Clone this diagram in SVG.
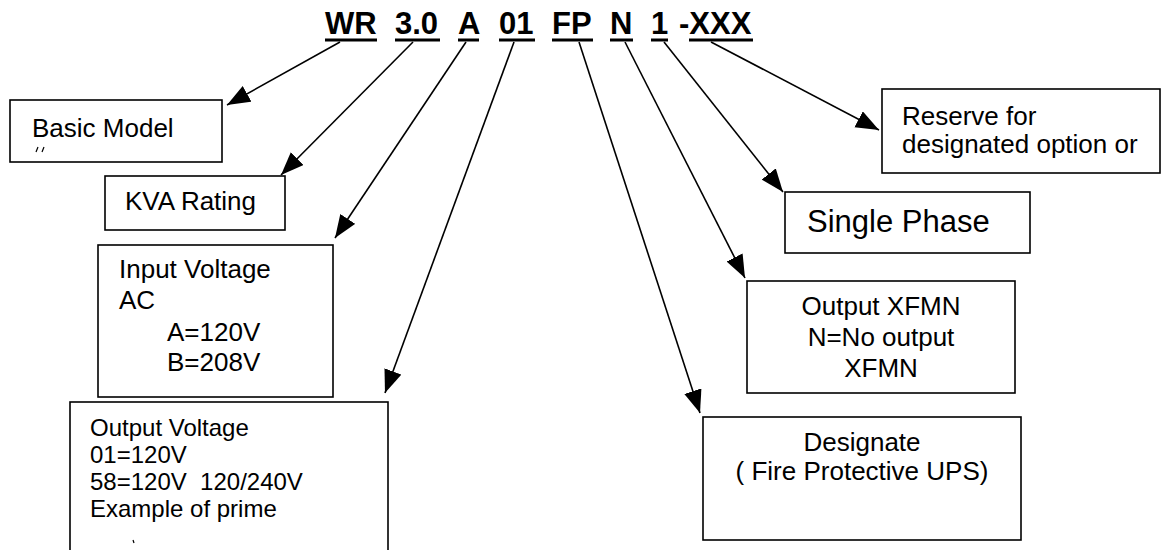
<svg xmlns="http://www.w3.org/2000/svg" width="1166" height="550" viewBox="0 0 1166 550">
<style>
.box{fill:#fff;stroke:#000;stroke-width:1.6}
.t{font-family:"Liberation Sans",Arial,sans-serif;fill:#000;white-space:pre}
.h{font-family:"Liberation Sans",Arial,sans-serif;font-weight:bold;font-size:31px;fill:#000}
.ul{stroke:#000;stroke-width:3}
.c{stroke:#000;stroke-width:1.6;fill:none;marker-end:url(#ah)}
</style>
<defs>
<marker id="ah" markerUnits="userSpaceOnUse" markerWidth="26" markerHeight="20" refX="23" refY="9" orient="auto">
<path d="M0,0 L23,9 L0,18 Z" fill="#000"/>
</marker>
</defs>
<rect width="1166" height="550" fill="#fff"/>
<g id="header">
<text class="h" x="325" y="34">WR</text>
<text class="h" x="395" y="34">3.0</text>
<text class="h" x="458" y="34">A</text>
<text class="h" x="499" y="34">01</text>
<text class="h" x="552" y="34">FP</text>
<text class="h" x="610" y="34">N</text>
<text class="h" x="651" y="34">1</text>
<text class="h" x="679" y="34">-XXX</text>
<line class="ul" x1="325" y1="40" x2="377" y2="40"/>
<line class="ul" x1="395" y1="40" x2="440" y2="40"/>
<line class="ul" x1="458" y1="40" x2="479" y2="40"/>
<line class="ul" x1="499" y1="40" x2="535" y2="40"/>
<line class="ul" x1="552" y1="40" x2="593" y2="40"/>
<line class="ul" x1="610" y1="40" x2="633" y2="40"/>
<line class="ul" x1="651" y1="40" x2="668" y2="40"/>
<line class="ul" x1="689" y1="40" x2="753" y2="40"/>
</g>
<g id="connectors">
<line class="c" x1="340" y1="42" x2="227" y2="105"/>
<line class="c" x1="413" y1="42" x2="281" y2="175"/>
<line class="c" x1="466" y1="42" x2="335" y2="238"/>
<line class="c" x1="514" y1="42" x2="385" y2="393"/>
<line class="c" x1="579" y1="42" x2="700" y2="413"/>
<line class="c" x1="625" y1="42" x2="745" y2="278"/>
<line class="c" x1="664" y1="42" x2="783" y2="192"/>
<line class="c" x1="711" y1="42" x2="879" y2="130"/>
</g>
<g id="basic-model">
<rect class="box" x="10" y="100" width="212" height="62"/>
<text class="t" x="32" y="137" font-size="26">Basic Model</text>
<path d="M38,147 L36,152 M44,147 L42,152" stroke="#000" stroke-width="1.2"/>
</g>
<g id="kva-rating">
<rect class="box" x="105" y="176" width="180" height="54"/>
<text class="t" x="125" y="210" font-size="26">KVA Rating</text>
</g>
<g id="input-voltage">
<rect class="box" x="98" y="245" width="235" height="152"/>
<text class="t" x="119" y="278" font-size="26">Input Voltage</text>
<text class="t" x="119" y="309" font-size="26">AC</text>
<text class="t" x="167" y="341" font-size="26">A=120V</text>
<text class="t" x="167" y="371" font-size="26">B=208V</text>
</g>
<g id="output-voltage">
<rect class="box" x="70" y="402" width="318" height="160"/>
<text class="t" x="90" y="436" font-size="24">Output Voltage</text>
<text class="t" x="90" y="463" font-size="24">01=120V</text>
<text class="t" x="90" y="490" font-size="24" xml:space="preserve">58=120V  120/240V</text>
<text class="t" x="90" y="517" font-size="24">Example of prime</text>
<path d="M133,540 L134,543" stroke="#000" stroke-width="1.2"/>
</g>
<g id="reserve">
<rect class="box" x="882" y="89" width="278" height="84"/>
<text class="t" x="902" y="125" font-size="26">Reserve for</text>
<text class="t" x="902" y="153" font-size="26">designated option or</text>
</g>
<g id="single-phase">
<rect class="box" x="785" y="192" width="245" height="61"/>
<text class="t" x="807" y="232" font-size="31">Single Phase</text>
</g>
<g id="output-xfmn">
<rect class="box" x="747" y="281" width="268" height="112"/>
<text class="t" x="881" y="315" font-size="26" text-anchor="middle">Output XFMN</text>
<text class="t" x="881" y="346" font-size="26" text-anchor="middle">N=No output</text>
<text class="t" x="881" y="377" font-size="26" text-anchor="middle">XFMN</text>
</g>
<g id="designate">
<rect class="box" x="703" y="417" width="318" height="123"/>
<text class="t" x="862" y="451" font-size="26" text-anchor="middle">Designate</text>
<text class="t" x="862" y="480" font-size="26" text-anchor="middle">( Fire Protective UPS)</text>
</g>
</svg>
